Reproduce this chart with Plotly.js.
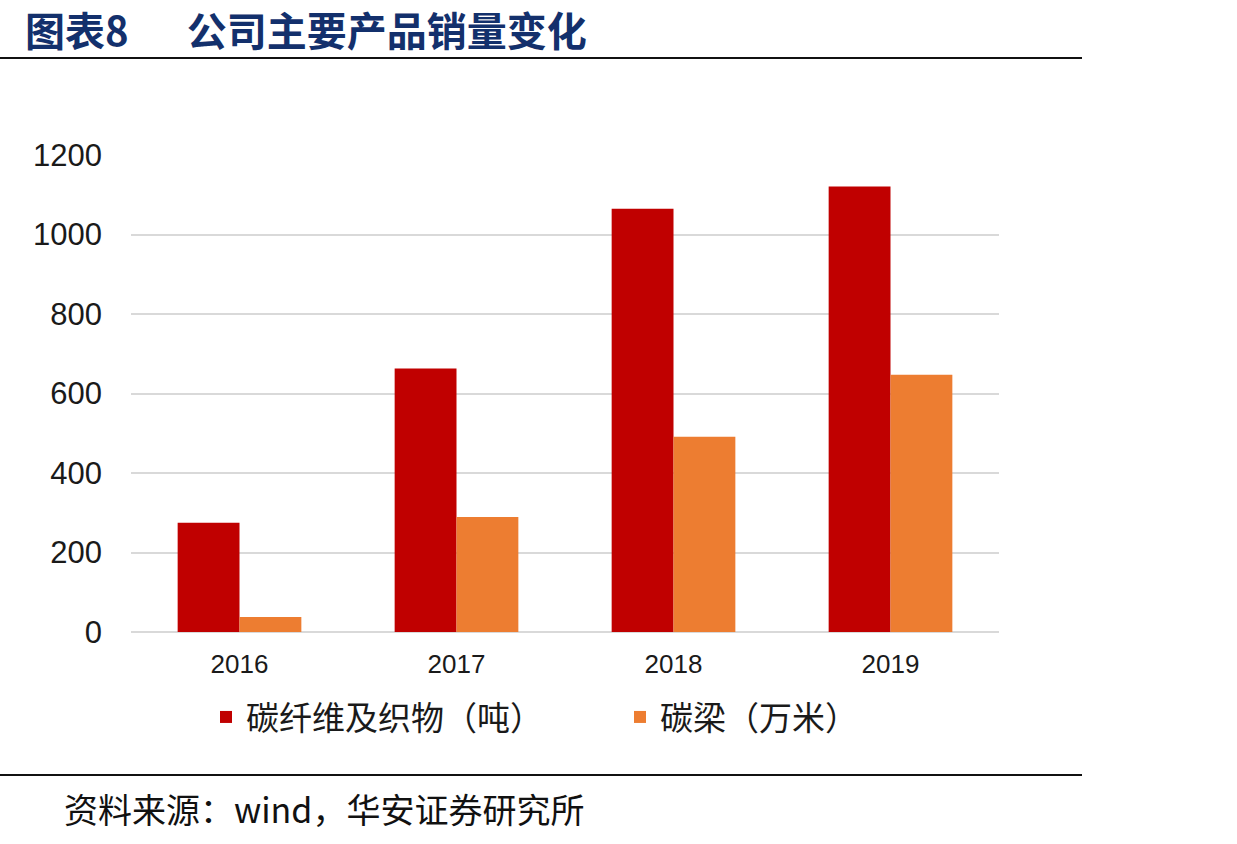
<!DOCTYPE html>
<html>
<head>
<meta charset="utf-8">
<script src="https://cdn.plot.ly/plotly-3.0.1.min.js"></script>
<style>
  html, body { margin: 0; padding: 0; background: #fff; }
  #chart { width: 1237px; height: 844px; }
</style>
</head>
<body>
<div id="chart"></div>
<script>
// Sales volume of the company's main products, 2016-2019
const years = ['2016', '2017', '2018', '2019'];
const carbonFiber = [275, 663, 1065, 1121];   // 碳纤维及织物（吨）
const carbonBeam = [38, 289, 491, 647];       // 碳梁（万米）
const seriesNames = ['碳纤维及织物（吨）', '碳梁（万米）'];
const yTicks = [0, 200, 400, 600, 800, 1000, 1200];

const W = 1237, H = 844;
const M = { l: 131, r: 238, t: 155, b: 212 };
const plotW = W - M.l - M.r, plotH = H - M.t - M.b;
// pixel -> paper helpers for decorations outside the plot area
const px = x => (x - M.l) / plotW;
const py = y => (H - M.b - y) / plotH;

const cjk = '"Noto Sans CJK SC", "Noto Sans", sans-serif';
const num = '"Liberation Sans", Arial, sans-serif';

const traces = [
  { type: 'bar', x: years, y: carbonFiber, name: seriesNames[0],
    marker: { color: '#C00000' }, legend: 'legend' },
  { type: 'bar', x: years, y: carbonBeam, name: seriesNames[1],
    marker: { color: '#ED7D31' }, legend: 'legend2' }
];

const legendStyle = (xPix) => ({
  orientation: 'h', x: px(xPix), xanchor: 'left', y: py(717), yanchor: 'middle',
  font: { family: cjk, size: 33, color: '#1a1a1a' },
  bgcolor: 'rgba(0,0,0,0)'
});

const layout = {
  width: W, height: H,
  margin: M,
  paper_bgcolor: '#fff', plot_bgcolor: '#fff',
  barmode: 'group', bargap: 0.43, bargroupgap: 0,
  showlegend: true,
  title: {
    text: '图表8\u3000\u00a0\u00a0公司主要产品销量变化',
    font: { family: cjk, size: 40, color: '#13306c', weight: 700 },
    xref: 'container', yref: 'container',
    x: 25 / W, xanchor: 'left', y: 1 - 32 / H, yanchor: 'middle'
  },
  xaxis: {
    type: 'category', showgrid: false, zeroline: false, showline: false,
    ticks: '', ticklabelstandoff: 14,
    tickfont: { family: num, size: 26, color: '#1a1a1a' }
  },
  yaxis: {
    range: [0, 1200], tickvals: yTicks, ticktext: yTicks.map(String),
    showgrid: true, gridcolor: '#d9d9d9', gridwidth: 2,
    zeroline: true, zerolinecolor: '#d9d9d9', zerolinewidth: 2,
    showline: false, ticks: '', ticklabelstandoff: 28,
    tickfont: { family: num, size: 31, color: '#1a1a1a' }
  },
  legend: legendStyle(206),
  legend2: legendStyle(620),
  shapes: [
    { type: 'line', xref: 'paper', yref: 'paper', x0: px(0), x1: px(1082), y0: py(58), y1: py(58),
      line: { color: '#111', width: 2 } },
    { type: 'line', xref: 'paper', yref: 'paper', x0: px(0), x1: px(1082), y0: py(775), y1: py(775),
      line: { color: '#111', width: 2 } }
  ],
  annotations: [
    { text: '资料来源：wind，华安证券研究所', xref: 'paper', yref: 'paper',
      x: px(62), y: py(808), xanchor: 'left', yanchor: 'middle', showarrow: false,
      font: { family: cjk, size: 34, color: '#111' } }
  ]
};

Plotly.newPlot('chart', traces, layout, { displayModeBar: false, staticPlot: true });
</script>
</body>
</html>
